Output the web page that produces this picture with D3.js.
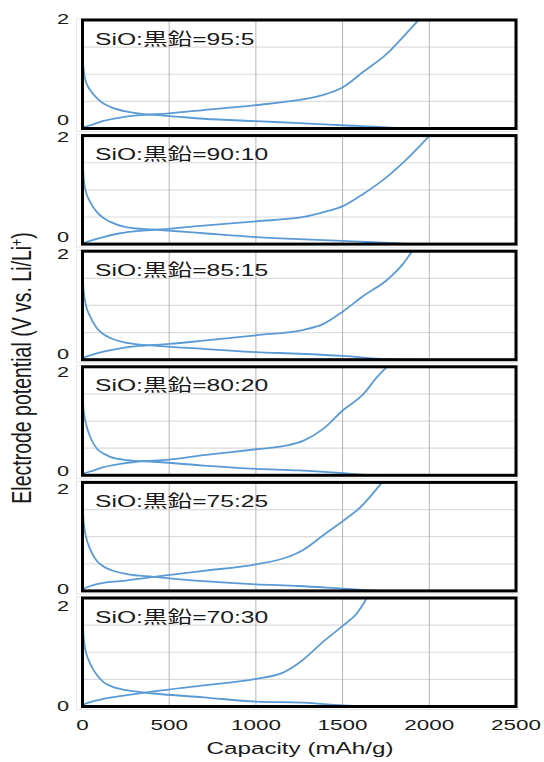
<!DOCTYPE html>
<html><head><meta charset="utf-8">
<script src="https://cdn.jsdelivr.net/npm/d3@7"></script>
<style>html,body{margin:0;padding:0;background:#fff;}</style>
</head><body>
<svg id="chart" width="544" height="762"></svg>
<script>
// ---- data ----
const panelLabels = ["SiO:黒鉛=95:5","SiO:黒鉛=90:10","SiO:黒鉛=85:15","SiO:黒鉛=80:20","SiO:黒鉛=75:25","SiO:黒鉛=70:30"];
const xTicks = [0,500,1000,1500,2000,2500];
const yTicks = [0,2];
const yGrid = [0.5,1,1.5];
const xTitle = "Capacity (mAh/g)";

// [capacity mAh/g, potential V]
const discharge_95_5 = [[0,1.50],[4,1.2],[10,1.0],[20,0.86],[44,0.71],[83,0.56],[121,0.46],[160,0.40],[256,0.31],[410,0.25],[500,0.23],[698,0.18],[1000,0.135],[1250,0.10],[1502,0.06],[1756,0.02],[1850,0]];
const charge_95_5 = [[0,0.02],[44,0.06],[121,0.14],[217,0.20],[313,0.24],[500,0.28],[698,0.34],[1000,0.43],[1275,0.54],[1390,0.62],[1502,0.76],[1621,1.05],[1756,1.38],[1852,1.70],[1938,2.0]];

const discharge_90_10 = [[0,1.69],[4,1.35],[10,1.12],[20,0.96],[44,0.78],[83,0.59],[121,0.48],[160,0.41],[256,0.31],[448,0.26],[698,0.20],[1000,0.13],[1250,0.09],[1502,0.06],[1852,0.01],[2044,0]];
const charge_90_10 = [[0,0.01],[44,0.06],[121,0.13],[217,0.20],[313,0.24],[448,0.27],[698,0.34],[1000,0.42],[1275,0.50],[1390,0.59],[1502,0.70],[1621,0.93],[1756,1.24],[1852,1.51],[2002,2.0]];

const discharge_85_15 = [[0,1.72],[4,1.40],[10,1.18],[20,1.0],[44,0.80],[83,0.58],[121,0.47],[160,0.40],[256,0.31],[410,0.26],[698,0.20],[1000,0.14],[1250,0.11],[1502,0.07],[1756,0.01],[1948,0]];
const charge_85_15 = [[0,0.03],[44,0.08],[121,0.15],[217,0.21],[313,0.25],[500,0.29],[698,0.35],[1000,0.45],[1275,0.55],[1390,0.66],[1502,0.89],[1621,1.18],[1756,1.47],[1852,1.78],[1900,2.0]];

const discharge_80_20 = [[0,1.60],[4,1.30],[10,1.12],[20,0.95],[44,0.71],[83,0.49],[121,0.40],[160,0.34],[256,0.28],[410,0.25],[698,0.18],[1000,0.12],[1250,0.09],[1502,0.04],[1621,0.01],[1700,0]];
const charge_80_20 = [[0,0.03],[44,0.07],[121,0.15],[217,0.21],[313,0.25],[500,0.29],[698,0.37],[1000,0.48],[1179,0.55],[1275,0.64],[1390,0.86],[1502,1.20],[1621,1.50],[1698,1.81],[1756,2.0]];

const discharge_75_25 = [[0,1.72],[4,1.40],[10,1.18],[20,1.0],[44,0.77],[83,0.55],[121,0.45],[160,0.39],[256,0.31],[410,0.26],[698,0.18],[1000,0.12],[1250,0.09],[1502,0.04],[1660,0.01],[1720,0]];
const charge_75_25 = [[0,0.03],[44,0.09],[121,0.15],[217,0.18],[410,0.26],[698,0.37],[1000,0.49],[1179,0.62],[1275,0.76],[1390,1.03],[1502,1.29],[1602,1.54],[1727,2.0]];

const discharge_70_30 = [[0,1.72],[4,1.40],[10,1.17],[20,1.0],[44,0.79],[83,0.58],[121,0.45],[160,0.38],[256,0.30],[410,0.24],[698,0.17],[1000,0.09],[1275,0.07],[1502,0.02],[1660,0]];
const charge_70_30 = [[0,0.03],[44,0.08],[121,0.14],[217,0.19],[410,0.28],[698,0.39],[1000,0.51],[1160,0.63],[1256,0.82],[1390,1.20],[1502,1.49],[1583,1.72],[1640,2.0]];

const dischargeSeries = [discharge_95_5,discharge_90_10,discharge_85_15,discharge_80_20,discharge_75_25,discharge_70_30];
const chargeSeries = [charge_95_5,charge_90_10,charge_85_15,charge_80_20,charge_75_25,charge_70_30];

// ---- layout ----
const svg = d3.select("#chart");
const SX = 1.45; // horizontal text stretch
const font = "'Liberation Sans', Arial, 'Noto Sans CJK JP', sans-serif";
const left = 82.5, right = 516;
const firstTop = 20, pitch = 115.6, ph = 108.5;
const color = "#5B9BD5";

const x = d3.scaleLinear().domain([0,2500]).range([left,right]);

function sText(g, tx, ty, str, size, anchor) {
  return g.append("text")
    .attr("transform", `translate(${tx},${ty}) scale(${SX},1)`)
    .attr("text-anchor", anchor)
    .attr("font-family", font)
    .attr("font-size", size)
    .attr("fill", "#1a1a1a")
    .text(str);
}

panelLabels.forEach((lab, i) => {
  const top = firstTop + i*pitch;
  const y = d3.scaleLinear().domain([0,2]).range([top+ph, top]);
  const g = svg.append("g");
  g.append("rect").attr("x", left-6).attr("y", top-1).attr("width", right-left+8).attr("height", ph+4)
    .attr("fill","none").attr("stroke","#e6e6e6").attr("stroke-width",1);
  g.selectAll(".gy").data(yGrid).join("line")
    .attr("x1", left).attr("x2", right).attr("y1", d=>y(d)).attr("y2", d=>y(d))
    .attr("stroke","#dcdcdc").attr("stroke-width",1.2);
  g.selectAll(".gx").data(xTicks.slice(1,-1)).join("line")
    .attr("x1", d=>x(d)).attr("x2", d=>x(d)).attr("y1", top).attr("y2", top+ph)
    .attr("stroke","#b4b4b4").attr("stroke-width",1);
  const line = d3.line().x(d=>x(d[0])).y(d=>y(d[1])).curve(d3.curveMonotoneX);
  g.append("path").datum(dischargeSeries[i]).attr("d", line)
    .attr("fill","none").attr("stroke",color).attr("stroke-width",1.8);
  g.append("path").datum(chargeSeries[i]).attr("d", line)
    .attr("fill","none").attr("stroke",color).attr("stroke-width",1.8);
  g.append("rect").attr("x", left).attr("y", top).attr("width", right-left).attr("height", ph)
    .attr("fill","none").attr("stroke","#000").attr("stroke-width",3);
  sText(g, left+12.5, top+24.5, lab, 17, "start");
  const offs = {2: -1 + 1.8*i, 0: -9 + 1.6*i};
  yTicks.forEach(v => {
    sText(g, 69, y(v) + offs[v] + 5.3, String(v), 15, "end");
  });
});

xTicks.forEach(v => sText(svg, x(v), 730, String(v), 15.5, "middle"));
sText(svg, 300, 754, xTitle, 16.7, "middle");

const yt = svg.append("text")
  .attr("transform", `translate(31,368) scale(${SX},1) rotate(-90)`)
  .attr("text-anchor","middle")
  .attr("font-family", font).attr("font-size", 19.5).attr("fill","#1a1a1a");
yt.append("tspan").text("Electrode potential (V vs. Li/Li");
yt.append("tspan").attr("baseline-shift","super").attr("font-size",12).text("+");
yt.append("tspan").text(")");
</script>
</body></html>
